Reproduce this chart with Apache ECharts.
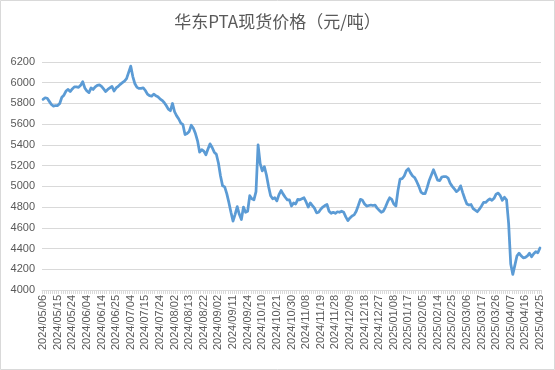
<!DOCTYPE html>
<html>
<head>
<meta charset="utf-8">
<script src="https://cdn.jsdelivr.net/npm/echarts@6/dist/echarts.min.js"></script>
<style>
html,body{margin:0;padding:0;background:#fff;}
#chart{width:555px;height:370px;}
</style>
</head>
<body>
<div id="chart"></div>
<script>
var titleText = '华东PTA现货价格（元/吨）';

var dates2024 = [
'2024/05/06','2024/05/07','2024/05/08','2024/05/09','2024/05/10','2024/05/13','2024/05/14','2024/05/15','2024/05/16','2024/05/17',
'2024/05/20','2024/05/21','2024/05/22','2024/05/23','2024/05/24','2024/05/27','2024/05/28','2024/05/29','2024/05/30','2024/05/31',
'2024/06/03','2024/06/04','2024/06/05','2024/06/06','2024/06/07','2024/06/11','2024/06/12','2024/06/13','2024/06/14','2024/06/17',
'2024/06/18','2024/06/19','2024/06/20','2024/06/21','2024/06/24','2024/06/25','2024/06/26','2024/06/27','2024/06/28',
'2024/07/01','2024/07/02','2024/07/03','2024/07/04','2024/07/05','2024/07/08','2024/07/09','2024/07/10','2024/07/11','2024/07/12',
'2024/07/15','2024/07/16','2024/07/17','2024/07/18','2024/07/19','2024/07/22','2024/07/23','2024/07/24','2024/07/25','2024/07/26',
'2024/07/29','2024/07/30','2024/07/31',
'2024/08/01','2024/08/02','2024/08/05','2024/08/06','2024/08/07','2024/08/08','2024/08/09','2024/08/12','2024/08/13','2024/08/14',
'2024/08/15','2024/08/16','2024/08/19','2024/08/20','2024/08/21','2024/08/22','2024/08/23','2024/08/26','2024/08/27','2024/08/28',
'2024/08/29','2024/08/30',
'2024/09/02','2024/09/03','2024/09/04','2024/09/05','2024/09/06','2024/09/09','2024/09/10','2024/09/11','2024/09/12','2024/09/13',
'2024/09/18','2024/09/19','2024/09/20','2024/09/23','2024/09/24','2024/09/25','2024/09/26','2024/09/27','2024/09/30',
'2024/10/08','2024/10/09','2024/10/10','2024/10/11','2024/10/14','2024/10/15','2024/10/16','2024/10/17','2024/10/18','2024/10/21',
'2024/10/22','2024/10/23','2024/10/24','2024/10/25','2024/10/28','2024/10/29','2024/10/30','2024/10/31',
'2024/11/01','2024/11/04','2024/11/05','2024/11/06','2024/11/07','2024/11/08','2024/11/11','2024/11/12','2024/11/13','2024/11/14',
'2024/11/15','2024/11/18','2024/11/19','2024/11/20','2024/11/21','2024/11/22','2024/11/25','2024/11/26','2024/11/27','2024/11/28',
'2024/11/29',
'2024/12/02','2024/12/03','2024/12/04','2024/12/05','2024/12/06','2024/12/09','2024/12/10','2024/12/11','2024/12/12','2024/12/13',
'2024/12/16','2024/12/17','2024/12/18','2024/12/19','2024/12/20','2024/12/23','2024/12/24','2024/12/25','2024/12/26','2024/12/27',
'2024/12/30','2024/12/31'
];
var dates2025 = [
'2025/01/02','2025/01/03','2025/01/06','2025/01/07','2025/01/08','2025/01/09','2025/01/10','2025/01/13','2025/01/14','2025/01/15',
'2025/01/16','2025/01/17','2025/01/20','2025/01/21','2025/01/22','2025/01/23','2025/01/24','2025/01/27',
'2025/02/05','2025/02/06','2025/02/07','2025/02/10','2025/02/11','2025/02/12','2025/02/13','2025/02/14','2025/02/17','2025/02/18',
'2025/02/19','2025/02/20','2025/02/21','2025/02/24','2025/02/25','2025/02/26','2025/02/27','2025/02/28',
'2025/03/03','2025/03/04','2025/03/05','2025/03/06','2025/03/07','2025/03/10','2025/03/11','2025/03/12','2025/03/13','2025/03/14',
'2025/03/17','2025/03/18','2025/03/19','2025/03/20','2025/03/21','2025/03/24','2025/03/25','2025/03/26','2025/03/27','2025/03/28',
'2025/03/31',
'2025/04/01','2025/04/02','2025/04/03','2025/04/07','2025/04/08','2025/04/09','2025/04/10','2025/04/11','2025/04/14','2025/04/15',
'2025/04/16','2025/04/17','2025/04/18','2025/04/21','2025/04/22','2025/04/23','2025/04/24','2025/04/25'
];

var prices2024 = [
5840,5855,5850,5820,5790,5775,5780,5780,5800,5860,
5880,5920,5935,5915,5940,5960,5960,5955,5975,6010,
5950,5920,5905,5950,5935,5960,5975,5980,5965,5940,
5915,5935,5950,5965,5920,5950,5965,5985,6000,
6015,6040,6100,6160,6060,5990,5955,5945,5945,5950,
5925,5890,5875,5870,5890,5875,5865,5845,5830,5810,
5780,5745,5730,
5800,5720,5680,5650,5610,5595,5500,5510,5530,5590,
5560,5510,5440,5330,5355,5340,5305,5360,5410,5375,
5330,5310,
5225,5100,5005,4995,4930,4845,4750,4665,4730,4805,
4730,4680,4800,4750,4760,4910,4880,4870,4950,
5400,5220,5150,5190,5110,5000,4910,4880,4890,4860,
4920,4960,4925,4895,4870,4870,4810,4840,
4830,4875,4870,4880,4890,4850,4800,4840,4815,4790,
4745,4750,4780,4800,4815,4825,4760,4740,4750,4740,
4755,
4750,4760,4750,4705,4670,4695,4715,4725,4760,4815,
4875,4865,4830,4810,4815,4820,4815,4820,4790,4770,
4750,4760
];
var prices2025 = [
4800,4850,4890,4875,4830,4810,4960,5070,5075,5100,
5150,5170,5130,5100,5085,5045,5000,4945,
4930,4930,4990,5060,5110,5160,5110,5060,5055,5090,
5095,5095,5080,5030,5000,4975,4950,4965,
5005,4940,4880,4830,4820,4825,4785,4770,4755,4780,
4810,4845,4845,4865,4880,4865,4885,4925,4935,4910,
4865,
4895,4870,4640,4250,4150,4240,4330,4355,4330,4310,
4315,4330,4355,4320,4350,4370,4360,4405
];

var yMin = 4000, yMax = 6200, yStep = 200;

var categories = dates2024.concat(dates2025);
var prices = prices2024.concat(prices2025);

var chart = echarts.init(document.getElementById('chart'), null, {renderer: 'canvas'});
var textColor = '#595959';
var font = 'Liberation Sans, Arial, sans-serif';

chart.setOption({
  animation: false,
  backgroundColor: '#ffffff',
  title: {
    text: titleText,
    left: 'center',
    top: 8,
    textStyle: {
      fontFamily: 'Noto Sans CJK SC, sans-serif',
      fontSize: 17,
      fontWeight: 'normal',
      color: textColor
    }
  },
  graphic: [{
    type: 'rect',
    shape: {x: 0.5, y: 0.5, width: 554, height: 369},
    style: {fill: 'none', stroke: '#d9d9d9', lineWidth: 1},
    silent: true
  }],
  grid: {left: 42, top: 62, width: 499, height: 228, containLabel: false},
  xAxis: {
    type: 'category',
    data: categories,
    boundaryGap: true,
    axisLine: {show: true, lineStyle: {color: '#d9d9d9', width: 1}},
    axisTick: {show: true, interval: 0, length: 4, lineStyle: {color: '#d9d9d9'}},
    axisLabel: {
      interval: 6,
      rotate: 90,
      fontSize: 11,
      fontFamily: font,
      color: textColor,
      margin: 5
    },
    splitLine: {show: false}
  },
  yAxis: {
    type: 'value',
    min: yMin,
    max: yMax,
    interval: yStep,
    axisLine: {show: false},
    axisTick: {show: false},
    axisLabel: {
      fontSize: 11,
      fontFamily: font,
      color: textColor,
      margin: 7,
      formatter: function (v) { return String(v); }
    },
    splitLine: {lineStyle: {color: '#d9d9d9', width: 1}}
  },
  series: [{
    type: 'line',
    data: prices,
    showSymbol: false,
    symbol: 'none',
    smooth: false,
    lineStyle: {color: '#5b9bd5', width: 2.75, join: 'round', cap: 'round'}
  }]
});
</script>
</body>
</html>
